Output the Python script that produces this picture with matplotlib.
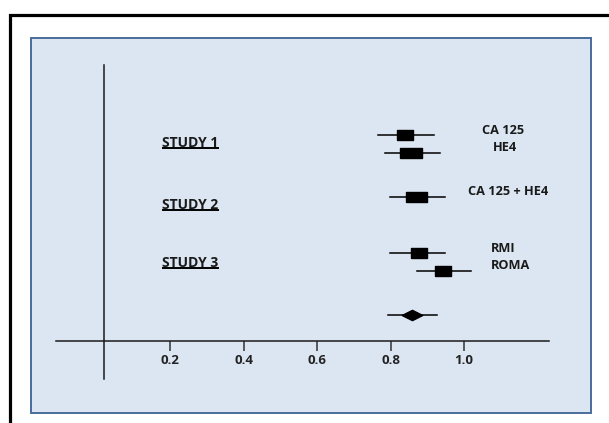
import matplotlib.pyplot as plt
from matplotlib.patches import Rectangle

# forest plot values
tests = ["CA 125", "HE4", "CA 125 + HE4", "RMI", "ROMA"]
est = [0.839, 0.856, 0.870, 0.877, 0.942]
lo = [0.767, 0.785, 0.798, 0.798, 0.871]
hi = [0.918, 0.935, 0.947, 0.947, 1.020]

pooled_est = 0.859
pooled_lo = 0.793
pooled_hi = 0.925

studies = ["STUDY 1", "STUDY 2", "STUDY 3"]
ticks = [0.2, 0.4, 0.6, 0.8, 1.0]
tick_labels = ["0.2", "0.4", "0.6", "0.8", "1.0"]

# layout
rows = [11.7, 10.7, 8.2, 5.0, 4.0]
pooled_row = 1.5
study_rows = [11.23, 7.73, 4.41]
label_x = [1.048, 1.077, 1.010, 1.073, 1.073]
box_w = [16, 22, 21, 16, 16]  # px

plt.rcParams['font.family'] = ['Open Sans', 'DejaVu Sans']

fig = plt.figure(figsize=(6.09, 4.23), dpi=100)
W, H = 609, 423

# outer black frame (runs off right/bottom)
fig.patches.append(Rectangle((10 / W, -0.5), 1.2, 0.5 + 1 - 15 / H, transform=fig.transFigure,
                             fill=False, edgecolor='black', linewidth=2.3, zorder=-2))
# light blue panel
fig.patches.append(Rectangle((31 / W, 10 / H), 560 / W, 375 / H, transform=fig.transFigure,
                             facecolor='#dce6f2', edgecolor='#4a6c9b', linewidth=1.4, zorder=-1))

ax = fig.add_axes([31 / W, 10 / H, 560 / W, 375 / H])
ax.set_zorder(2)
ax.patch.set_alpha(0)
ax.set_xlim(-0.178, 1.345)
ax.set_ylim(-4.09, 17.22)

for s in ['top', 'right']:
    ax.spines[s].set_visible(False)
ax.spines['bottom'].set_position(('data', 0))
ax.spines['bottom'].set_bounds(-0.11, 1.231)
ax.spines['left'].set_position(('data', 0.02))
ax.spines['left'].set_bounds(-2.16, 15.68)
for s in ['bottom', 'left']:
    ax.spines[s].set_linewidth(1.1)
    ax.spines[s].set_color('#1a1a1a')

ax.set_yticks([])
ax.set_xticks(ticks)
ax.set_xticklabels(tick_labels, fontsize=9.5, fontweight='bold', color='#222222')
ax.tick_params(axis='x', direction='out', length=7.5, width=1.1, color='#333333', pad=2)

for i in range(len(tests)):
    ax.plot([lo[i], hi[i]], [rows[i], rows[i]], color='black', lw=1.1, zorder=3)
    r = box_w[i] / 10.5
    ax.plot([est[i]], [rows[i]], linestyle='none', color='black', zorder=4,
            marker=[(-r, -1), (r, -1), (r, 1), (-r, 1), (-r, -1)],
            markersize=box_w[i] * 0.72)
    ax.text(label_x[i], rows[i] + 0.28, tests[i], fontsize=9.2, fontweight='bold',
            ha='left', va='center', color='#1a1a1a')

ax.plot([pooled_lo, pooled_hi], [pooled_row, pooled_row], color='black', lw=1.1, zorder=3)
ax.plot([pooled_est], [pooled_row], linestyle='none', color='black', zorder=4,
        marker=[(-2, 0), (0, 1), (2, 0), (0, -1), (-2, 0)], markersize=20.6 * 0.72)

texts = []
for y, s in zip(study_rows, studies):
    texts.append(ax.text(0.179, y, s, fontsize=10, fontweight='bold', ha='left',
                         va='center', color='#1a1a1a'))

# underline the study names
fig.canvas.draw()
inv = ax.transData.inverted()
for t in texts:
    bb = t.get_window_extent()
    (x0, y0), (x1, y1) = inv.transform([(bb.x0, bb.y0), (bb.x1, bb.y1)])
    ax.plot([x0, x1], [y0 + 0.12, y0 + 0.12], color='black', lw=1.4, solid_capstyle='butt')

fig.savefig('out.png', dpi=100, facecolor='white')
